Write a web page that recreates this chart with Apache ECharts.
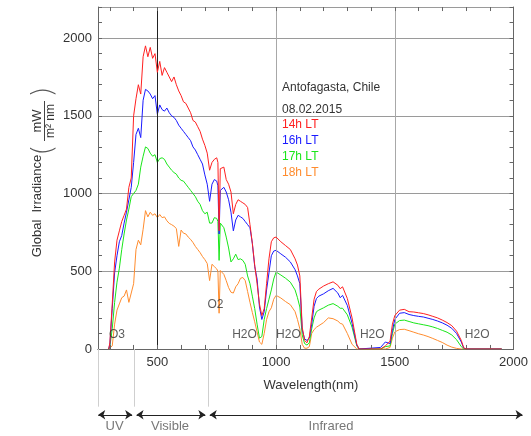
<!DOCTYPE html>
<html>
<head>
<meta charset="utf-8">
<script src="https://cdn.jsdelivr.net/npm/echarts@6/dist/echarts.min.js"></script>
<style>
  html, body { margin: 0; padding: 0; background: #fff; }
  #chart { width: 531px; height: 436px; }
</style>
</head>
<body>
<div id="chart"></div>
<script>
// Global spectral irradiance, Antofagasta (Chile), 08.02.2015
const wavelengths = [295, 300, 310, 320, 330, 340, 350, 360, 370, 380, 390, 400, 410, 420, 430, 440, 450, 460, 470, 480, 490,
  500, 510, 520, 530, 540, 550, 560, 570, 580, 590, 600, 610, 620, 630, 640, 650, 660, 670, 680, 690,
  700, 710, 720, 730, 740, 750, 755, 760, 765, 770, 780, 790, 800, 810, 820, 830, 840, 850, 860, 870, 880, 890,
  900, 910, 920, 930, 940, 950, 960, 970, 980, 990, 1000, 1020, 1040, 1060, 1080, 1090, 1100, 1110, 1120, 1130,
  1140, 1150, 1160, 1170, 1180, 1200, 1220, 1240, 1260, 1270, 1280, 1300, 1320, 1340, 1350, 1440, 1460, 1480,
  1490, 1500, 1520, 1540, 1560, 1580, 1600, 1620, 1640, 1660, 1680, 1700, 1720, 1740, 1760, 1780, 1790, 1800, 1950];

const irr14h = [0, 40, 290, 560, 700, 760, 820, 860, 900, 1040, 1100, 1500, 1610, 1700, 1640, 1880, 1950, 1880, 1940, 1870, 1900,
  1780, 1850, 1760, 1810, 1780, 1750, 1720, 1750, 1700, 1660, 1630, 1590, 1580, 1550, 1520, 1470, 1460, 1430, 1400, 1350,
  1310, 1260, 1150, 1200, 1220, 1230, 1200, 760, 1160, 1150, 1170, 1090, 1060, 1010, 870, 930, 960, 950, 940, 930, 910, 800,
  680, 540, 420, 290, 215, 260, 420, 580, 690, 715, 720, 690, 665, 640, 580, 540, 470, 140, 55, 40,
  80, 200, 320, 370, 385, 405, 420, 432, 410, 388, 400, 325, 200, 30, 0, 0, 20, 50,
  160, 215, 250, 255, 240, 238, 233, 228, 220, 210, 200, 186, 170, 150, 115, 55, 8, 0, 0];

const irr16h = [0, 30, 260, 490, 600, 690, 730, 810, 880, 960, 1040, 1200, 1380, 1420, 1360, 1600, 1670, 1660, 1640, 1610, 1630,
  1510, 1570, 1540, 1530, 1550, 1520, 1500, 1490, 1470, 1440, 1420, 1400, 1380, 1360, 1340, 1300, 1280, 1250, 1220, 1190,
  1120, 1060, 950, 1060, 1090, 1080, 1050, 740, 1020, 1010, 1040, 1010, 960, 880, 760, 830, 860, 850, 840, 820, 800, 780,
  680, 530, 450, 270, 190, 240, 380, 490, 600, 630, 635, 612, 590, 560, 510, 470, 420, 125, 65, 55,
  70, 160, 275, 325, 340, 355, 375, 390, 360, 330, 345, 280, 165, 25, 0, 10, 45, 35,
  120, 190, 230, 234, 222, 215, 210, 206, 198, 190, 180, 168, 153, 133, 100, 45, 6, 0, 0];

const irr17h = [0, 15, 130, 300, 430, 520, 640, 740, 830, 900, 980, 1000, 1020, 1060, 1170, 1240, 1300, 1290, 1260, 1240, 1250,
  1200, 1225, 1230, 1220, 1190, 1170, 1150, 1135, 1125, 1100, 1085, 1080, 1060, 1040, 1020, 1000, 980, 950, 930, 890,
  870, 880, 810, 810, 845, 840, 820, 570, 810, 800, 780, 720, 650, 560, 580, 610, 575, 580, 570, 545, 470, 420,
  340, 260, 160, 70, 80, 190, 260, 320, 380, 450, 495, 476, 455, 430, 380, 330, 270, 90, 35, 25,
  40, 130, 200, 240, 250, 265, 282, 292, 275, 262, 262, 220, 140, 20, 0, 0, 15, 20,
  100, 160, 183, 186, 177, 168, 162, 156, 150, 142, 132, 120, 108, 90, 60, 15, 0, 0, 0];

const irr18h = [0, 0, 20, 160, 250, 290, 330, 340, 380, 300, 360, 420, 640, 700, 670, 770, 890, 850, 880, 860, 870,
  845, 865, 845, 850, 825, 808, 800, 790, 775, 660, 765, 745, 740, 720, 705, 685, 660, 640, 620, 595,
  575, 550, 440, 545, 530, 515, 500, 230, 505, 505, 480, 440, 395, 365, 360, 400, 420, 455, 460, 440, 370, 300,
  235, 175, 110, 45, 30, 100, 190, 240, 265, 320, 345, 328, 305, 285, 240, 190, 130, 30, 5, 5,
  15, 100, 125, 140, 150, 170, 200, 195, 180, 165, 160, 100, 30, 0, 0, 0, 0, 10,
  70, 110, 125, 127, 118, 108, 98, 90, 80, 68, 55, 42, 25, 12, 4, 0, 0, 0, 0];

const seriesNames = ['14h LT', '16h LT', '17h LT', '18h LT'];
const seriesColors = ['#ff2020', '#1a1aff', '#19e619', '#ff8c2e'];

// axis ticks and labels
const xTickNm = [300, 400, 500, 600, 700, 800, 900, 1000, 1100, 1200, 1300, 1400, 1500, 1600, 1700, 1800, 1900];
const xLabelNm = [500, 1000, 1500, 2000];
const xGridNm = [500, 1000, 1500];
const Y_MAX = 2200;
const TICK_LEN = 26; // tick length in irradiance units (about 4 px)

// absorption band annotations
const bandNames = ['O3', 'O2', 'H2O', 'H2O', 'H2O', 'H2O'];
const bandNm = [330, 745, 867, 1052, 1405, 1847];
const bandLevel = [90, 282, 90, 90, 90, 90];

// spectral regions under the axis
const regionEdges = [250, 400, 700, 2000];
const regionNames = ['UV', 'Visible', 'Infrared'];
const regionLabelNm = [318, 545, 1205];

const FONT = 'Liberation Sans, Arial, sans-serif';
const chart = echarts.init(document.getElementById('chart'));

const irrSeries = [irr14h, irr16h, irr17h, irr18h].map((vals, k) => ({
  name: seriesNames[k],
  type: 'line',
  xAxisIndex: 0,
  yAxisIndex: 0,
  data: wavelengths.map((w, i) => [w, vals[i]]),
  showSymbol: false,
  symbol: 'none',
  lineStyle: { color: seriesColors[k], width: 1 },
  itemStyle: { color: seriesColors[k] },
  z: 5 - k
}));

const tickStyle = { color: '#666', width: 1, type: 'solid' };
// vertical grid lines (the 500 nm one darker) and inward wavelength ticks on bottom and top
irrSeries[0].markLine = {
  silent: true,
  symbol: 'none',
  label: { show: false },
  animation: false,
  data: [
    ...xGridNm.map(w => ({ xAxis: w, lineStyle: { color: w === 500 ? '#222' : '#a8a8a8', width: 1, type: 'solid' } })),
    ...xTickNm.map(w => [{ coord: [w, 0], lineStyle: tickStyle }, { coord: [w, TICK_LEN] }]),
    ...xTickNm.map(w => [{ coord: [w, Y_MAX], lineStyle: tickStyle }, { coord: [w, Y_MAX - TICK_LEN] }])
  ]
};

const legendLines = ['Antofagasta, Chile', '08.02.2015'];

const option = {
  animation: false,
  backgroundColor: '#fff',
  textStyle: { fontFamily: FONT },
  grid: [
    { left: 98, right: 6, top: 7, bottom: 87 },
    { left: 98, right: 6, top: 349, bottom: 0 }
  ],
  xAxis: [
    {
      type: 'value', gridIndex: 0, min: 250, max: 2000, position: 'bottom',
      axisLine: { show: true, lineStyle: { color: '#666', width: 1 } },
      axisTick: { show: false },
      axisLabel: { customValues: xLabelNm, color: '#333', fontSize: 13, margin: 7, fontFamily: FONT,
        formatter: v => String(v) },
      splitLine: { show: false }
    },
    {
      type: 'value', gridIndex: 0, min: 250, max: 2000, position: 'top',
      axisLine: { show: true, lineStyle: { color: '#666', width: 1 } },
      axisTick: { show: false },
      axisLabel: { show: false },
      splitLine: { show: false }
    },
    { type: 'value', gridIndex: 1, min: 250, max: 2000, show: false }
  ],
  yAxis: [
    {
      type: 'value', gridIndex: 0, min: 0, max: Y_MAX, interval: 100, position: 'left',
      axisLine: { show: true, lineStyle: { color: '#666', width: 1 } },
      axisTick: { show: true, inside: true, length: 4, lineStyle: { color: '#666' } },
      axisLabel: {
        color: '#333', fontSize: 13, margin: 6, fontFamily: FONT,
        formatter: v => (v % 500 === 0 ? String(v) : '')
      },
      splitLine: { show: false }
    },
    {
      type: 'value', gridIndex: 0, min: 0, max: Y_MAX, interval: 100, position: 'right',
      axisLine: { show: true, lineStyle: { color: '#666', width: 1 } },
      axisTick: { show: true, inside: true, length: 4, lineStyle: { color: '#666' } },
      axisLabel: { show: false },
      splitLine: { show: false }
    },
    {
      type: 'value', gridIndex: 0, min: 0, max: Y_MAX, interval: 500, position: 'left',
      axisLine: { show: false }, axisTick: { show: false }, axisLabel: { show: false },
      splitLine: { show: true, lineStyle: { color: '#9a9a9a', width: 1 } }
    },
    { type: 'value', gridIndex: 1, min: 0, max: 1, show: false }
  ],
  series: [
    ...irrSeries,
    {
      name: 'bands', type: 'scatter', xAxisIndex: 0, yAxisIndex: 0,
      symbolSize: 0, silent: true, z: 10,
      data: bandNames.map((n, i) => ({ name: n, value: [bandNm[i], bandLevel[i]] })),
      label: { show: true, position: 'inside', formatter: '{b}', color: '#333', fontSize: 12, fontFamily: FONT }
    },
    {
      name: 'regions', type: 'scatter', xAxisIndex: 2, yAxisIndex: 3,
      symbolSize: 0, silent: true,
      data: regionNames.map((n, i) => ({ name: n, value: [regionLabelNm[i], 0.105] })),
      label: { show: true, position: 'inside', formatter: '{b}', color: '#555', fontSize: 13, fontFamily: FONT },
      markLine: {
        silent: true, animation: false,
        label: { show: false },
        data: [
          // boundary lines below the axis
          ...regionEdges.slice(0, 3).map(w => [
            { coord: [w, 1], symbol: 'none', lineStyle: { color: '#cfcfcf', width: 1, type: 'solid' } },
            { coord: [w, 0.337], symbol: 'none' }
          ]),
          // double-headed arrows spanning each region
          ...regionNames.map((n, i) => [
            { coord: [regionEdges[i] + (i === 0 ? 1 : 8), 0.244], symbol: 'arrow', symbolSize: 7,
              lineStyle: { color: '#222', width: 1, type: 'solid' } },
            { coord: [regionEdges[i + 1] - 10, 0.244], symbol: 'arrow', symbolSize: 7 }
          ])
        ]
      }
    }
  ],
  graphic: [
    // y-axis title
    { type: 'text', x: 37, y: 206, rotation: Math.PI / 2,
      style: { text: 'Global  Irradiance', font: '13px ' + FONT, fill: '#333', textAlign: 'center', textVerticalAlign: 'middle' } },
    { type: 'text', x: 44, y: 150, rotation: Math.PI / 2,
      style: { text: '(', font: '100 29px DejaVu Sans', fill: '#555', textAlign: 'center', textVerticalAlign: 'middle' } },
    { type: 'text', x: 44, y: 92, rotation: Math.PI / 2,
      style: { text: ')', font: '100 29px DejaVu Sans', fill: '#555', textAlign: 'center', textVerticalAlign: 'middle' } },
    { type: 'text', x: 37, y: 121, rotation: Math.PI / 2,
      style: { text: 'mW', font: '13px ' + FONT, fill: '#333', textAlign: 'center', textVerticalAlign: 'middle' } },
    { type: 'line', shape: { x1: 44.5, y1: 101, x2: 44.5, y2: 141 }, style: { stroke: '#444', lineWidth: 1 } },
    { type: 'text', x: 51, y: 121, rotation: Math.PI / 2,
      style: { text: 'm² nm', font: '12px ' + FONT, fill: '#333', textAlign: 'center', textVerticalAlign: 'middle' } },
    // x-axis title
    { type: 'text', x: 311, y: 385,
      style: { text: 'Wavelength(nm)', font: '13px ' + FONT, fill: '#333', textAlign: 'center', textVerticalAlign: 'middle' } },
    // location, date and series key
    ...legendLines.map((t, i) => ({ type: 'text', x: 282, y: [88, 110][i],
      style: { text: t, font: '12px ' + FONT, fill: '#333', textAlign: 'left', textVerticalAlign: 'middle' } })),
    ...seriesNames.map((t, i) => ({ type: 'text', x: 282, y: 125 + i * 16,
      style: { text: t, font: '12px ' + FONT, fill: seriesColors[i], textAlign: 'left', textVerticalAlign: 'middle' } }))
  ]
};

chart.setOption(option);
</script>
</body>
</html>
